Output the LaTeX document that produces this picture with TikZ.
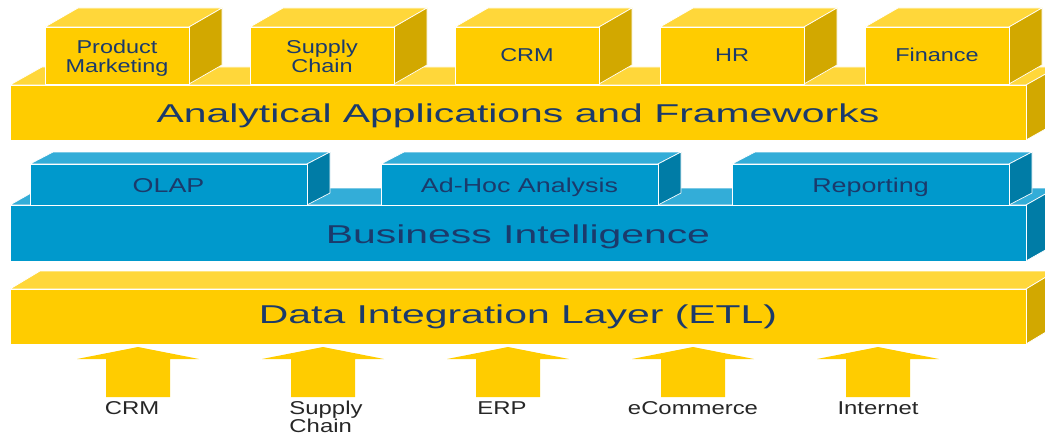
\documentclass[tikz,border=0pt]{standalone}
\usepackage{fontspec}
\setmainfont{Liberation Sans}
\usepackage{tikz}
\usetikzlibrary{calc}
\definecolor{gelbVorne}{HTML}{FFCC00}
\definecolor{gelbOben}{HTML}{FFD73A}
\definecolor{gelbSeite}{HTML}{D2A800}
\definecolor{blauVorne}{HTML}{0099CC}
\definecolor{blauOben}{HTML}{33ADD8}
\definecolor{blauSeite}{HTML}{007CA6}
\definecolor{schrift}{HTML}{1B3A6B}
%Quader: x, y (oben vorne), Breite, Hoehe, Tiefe x, Tiefe y, Farbe
\newcommand{\quader}[7]{%
  \draw[kante,fill=#7Oben] (#1,#2) -- ++(#5,-#6) -- ++(#3,0) -- ++(-#5,#6) -- cycle;
  \draw[kante,fill=#7Seite] (#1+#3,#2) -- ++(#5,-#6) -- ++(0,#4) -- ++(-#5,#6) -- cycle;
  \draw[kante,fill=#7Vorne] (#1,#2) rectangle ++(#3,#4);
}
%Text breit ziehen (Folie war gestaucht), ohne Unterlaenge der Tabelle
\newcommand{\breit}[3]{\raisebox{0pt}[\height][0pt]{\scalebox{#1}[1]{\begin{tabular}[t]{@{}#2@{}}#3\end{tabular}}}}
\tikzset{
  kante/.style={draw=white,line width=0.7pt,line join=round},
  titel/.style={anchor=base,inner sep=0pt,text=schrift,font=\fontsize{25.8}{28}\selectfont},
  kleingelb/.style={anchor=base,inner sep=0pt,text=schrift,font=\fontsize{18.6}{19.4}\selectfont},
  kleinblau/.style={anchor=base,inner sep=0pt,text=schrift,font=\fontsize{20}{22}\selectfont},
  quelle/.style={anchor=base,inner sep=0pt,text=black!85,font=\fontsize{18.6}{16.5}\selectfont},
  pfeil/.style={fill=gelbVorne},
}
\begin{document}
\begin{tikzpicture}[x=1pt,y=-1pt]
  \useasboundingbox (0,0) rectangle (1045,436);
  \clip (0,0) rectangle (1045,436);
%Oberste Schicht
\quader{10}{85}{1016}{55}{32}{18}{gelb}
\foreach \name/\txt/\grund [count=\i from 0] in {prod/{Product\\Marketing}/53.3, supply/{Supply\\Chain}/53.3, crm/CRM/62, hr/HR/62, fin/Finance/62}{
  \quader{45+205*\i}{27}{144}{57}{33}{19}{gelb}
  \node[kleingelb] (\name) at (45+205*\i+72,\grund) {\breit{1.261}{c}{\txt}};
}
\node[titel] (analytik) at (518,122) {\breit{1.585}{c}{Analytical Applications and Frameworks}};
%Business Intelligence
\quader{10}{205}{1016}{56}{30}{17}{blau}
\foreach \name/\txt [count=\i from 0] in {olap/OLAP, adhoc/Ad-Hoc Analysis, report/Reporting}{
  \quader{30+351*\i}{164}{277}{41}{23}{12}{blau}
  \node[kleinblau] (\name) at (30+351*\i+138.5,192.5) {\breit{1.343}{c}{\txt}};
}
\node[titel] (bi) at (518,243.5) {\breit{1.585}{c}{Business Intelligence}};
%ETL
\quader{10}{289}{1016}{55}{30}{18}{gelb}
\node[titel] (etl) at (518,323.5) {\breit{1.585}{c}{Data Integration Layer (ETL)}};
%Quellen mit Pfeilen
\foreach \name/\txt/\dx [count=\i from 0] in {qcrm/CRM/-6, qsupply/{Supply\\Chain}/3, qerp/ERP/-6, qecom/eCommerce/0, qnet/Internet/0}{
  \fill[pfeil] (138+185*\i,347) -- ++(61,12) -- ++(-29,0) -- ++(0,38) -- ++(-64,0) -- ++(0,-38) -- ++(-29,0) -- cycle;
  \node[quelle] (\name) at (138+185*\i+\dx,414.5) {\breit{1.284}{l}{\txt}};
}
\end{tikzpicture}
\end{document}
